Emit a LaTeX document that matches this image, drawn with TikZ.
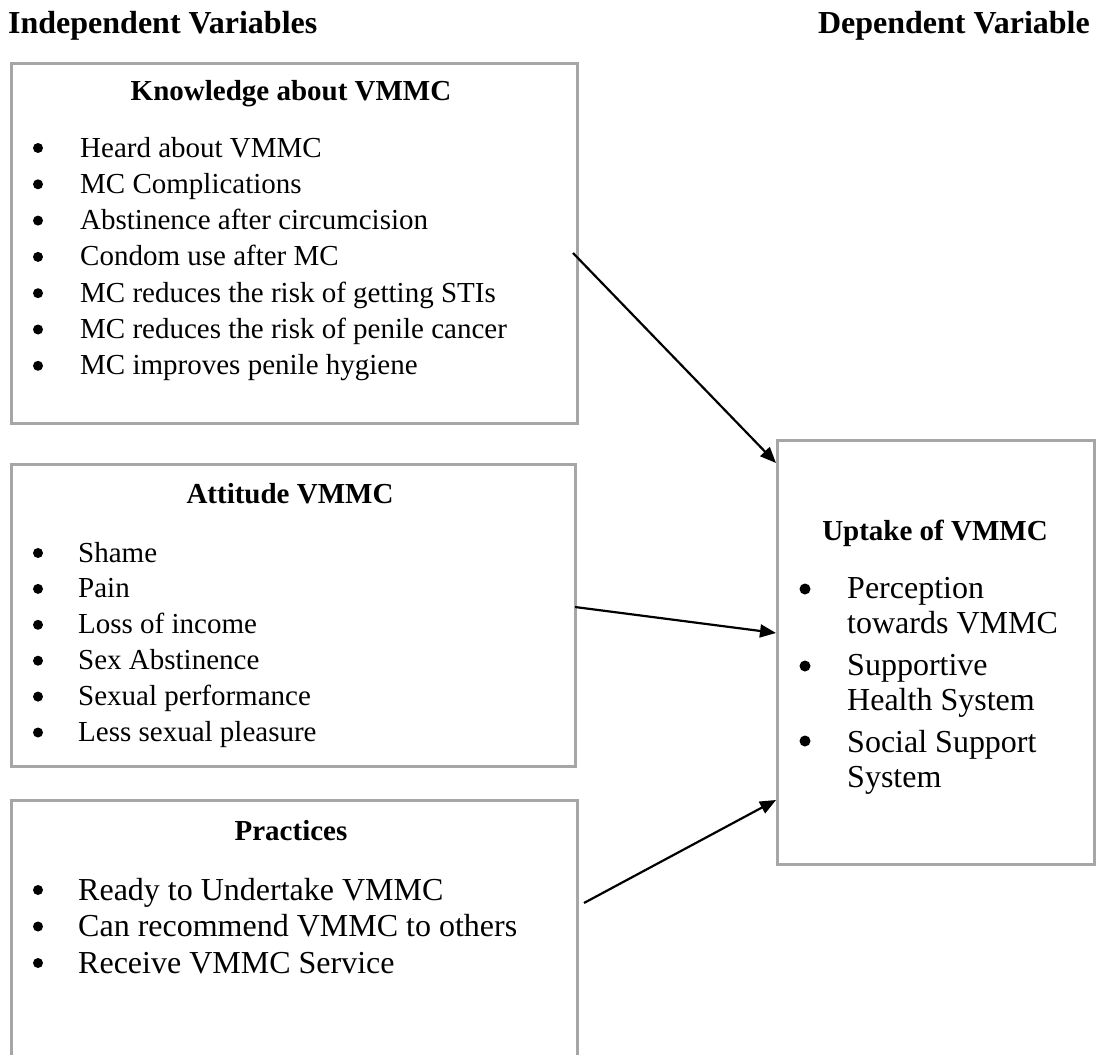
\documentclass[tikz,border=0pt]{standalone}
\usepackage{fontspec}
\setmainfont{Liberation Serif}
\usetikzlibrary{arrows.meta}
\definecolor{boxgray}{HTML}{A6A6A6}
\tikzset{
  vbox/.style={draw=boxgray, line width=3pt, inner sep=0pt, anchor=north west},
  ttl/.style={font=\fontsize{29}{34}\selectfont\bfseries, inner sep=0pt, anchor=base},
  itm/.style={font=\fontsize{29}{34}\selectfont, inner sep=0pt, anchor=base west},
  itmL/.style={font=\fontsize{32}{38}\selectfont, inner sep=0pt, anchor=base west},
  hdr/.style={font=\fontsize{32}{38}\selectfont\bfseries, inner sep=0pt},
  arr/.style={-{Triangle[length=16pt,width=13pt]}, line width=2.2pt, black},
  bul/.style={fill=black},
}
\begin{document}
\begin{tikzpicture}[x=1pt,y=-1pt]
\clip (0,0) rectangle (1101,1055);
\fill[white] (0,0) rectangle (1101,1055);

% headers
\node[hdr, anchor=base west] (hind) at (8,33) {Independent Variables};
\node[hdr, anchor=base east] (hdep) at (1090,33) {Dependent Variable};

% boxes
\node[vbox, minimum width=566pt, minimum height=360pt] (know) at (10,62) {};
\node[vbox, minimum width=564pt, minimum height=302pt] (att) at (10,463) {};
\node[vbox, minimum width=566pt, minimum height=300pt] (prac) at (10,799) {};
\node[vbox, minimum width=317pt, minimum height=424pt] (up) at (776,439) {};

% Knowledge box
\node[ttl] (kt) at (291,100) {Knowledge about VMMC};
\foreach \t [count=\i from 0] in {Heard about VMMC, MC Complications, Abstinence after circumcision, Condom use after MC, MC reduces the risk of getting STIs, MC reduces the risk of penile cancer, MC improves penile hygiene}{
  \node[itm] (k\i) at (80,{157+36.3*\i}) {\t};
  \fill[bul] (38,{148+36.3*\i}) circle (5pt);
}

% Attitude box
\node[ttl] (at) at (290,503) {Attitude VMMC};
\foreach \t [count=\i from 0] in {Shame, Pain, Loss of income, Sex Abstinence, Sexual performance, Less sexual pleasure}{
  \node[itm] (a\i) at (78,{562+35.9*\i}) {\t};
  \fill[bul] (38,{553+35.9*\i}) circle (5pt);
}

% Practices box
\node[ttl] (pt) at (291,840) {Practices};
\foreach \t [count=\i from 0] in {Ready to Undertake VMMC, Can recommend VMMC to others, Receive VMMC Service}{
  \node[itmL] (p\i) at (78,{900+36.5*\i}) {\t};
  \fill[bul] (38,{890+36.5*\i}) circle (5pt);
}

% Uptake box
\node[ttl] (ut) at (935,540) {Uptake of VMMC};
\node[itmL] (u1) at (847,598) {Perception};
\node[itmL] (u2) at (847,633) {towards VMMC};
\node[itmL] (u3) at (847,675) {Supportive};
\node[itmL] (u4) at (847,710) {Health System};
\node[itmL] (u5) at (847,752) {Social Support};
\node[itmL] (u6) at (847,787) {System};
\fill[bul] (805,589) circle (5.5pt);
\fill[bul] (805,666) circle (5.5pt);
\fill[bul] (805,741) circle (5.5pt);

% connectors
\coordinate (s1) at (573,253);
\coordinate (s2) at (575,607);
\coordinate (s3) at (584,903);
\draw[arr] (s1) -- (up.west |- 0,463);
\draw[arr] (s2) -- (up.west |- 0,633);
\draw[arr] (s3) -- (up.west |- 0,800);
\end{tikzpicture}
\end{document}
